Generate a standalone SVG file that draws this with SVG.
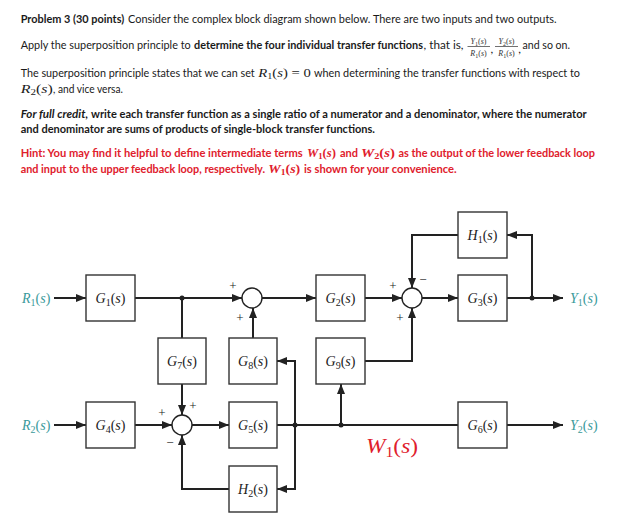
<svg xmlns="http://www.w3.org/2000/svg" width="623" height="519" viewBox="0 0 623 519">
<defs>
<style>
.t{font-family:Lato,"Open Sans","Liberation Sans",sans-serif;font-size:12px;fill:#1a1a1a}
.b{font-weight:bold}
.bi{font-weight:bold;font-style:italic}
.red{fill:#e0202c}
.m{font-family:"Liberation Serif","DejaVu Serif",serif;font-size:13px}
.i{font-style:italic}
.lbl{font-family:"Liberation Serif","DejaVu Serif",serif;font-size:14px;fill:#222;text-anchor:middle}
.io{font-family:"Liberation Serif","DejaVu Serif",serif;font-size:14px;fill:#3a9a9b}
.sg{font-family:"Liberation Serif","DejaVu Serif",serif;font-size:13px;fill:#222;text-anchor:middle}
.box{fill:#fff;stroke:#333;stroke-width:1.4}
.sum{fill:#fff;stroke:#222;stroke-width:1.4}
.c{fill:none;stroke:#222;stroke-width:2}
.a{marker-end:url(#ah)}
.dot{fill:#222}
</style>
<marker id="ah" markerWidth="10" markerHeight="8" refX="10" refY="4" orient="auto" markerUnits="userSpaceOnUse">
<path d="M0,0 L10,4 L0,8 z" fill="#222"/>
</marker>
</defs>
<rect width="623" height="519" fill="#fff"/>

<g id="text">
<text class="t b" x="20.7" y="22.7" textLength="103.5" lengthAdjust="spacingAndGlyphs">Problem 3 (30 points)</text>
<text class="t" x="128" y="22.7" textLength="428.7" lengthAdjust="spacingAndGlyphs">Consider the complex block diagram shown below. There are two inputs and two outputs.</text>

<text class="t" x="20.7" y="49" textLength="170" lengthAdjust="spacingAndGlyphs">Apply the superposition principle to</text>
<text class="t b" x="194" y="49" textLength="229" lengthAdjust="spacingAndGlyphs">determine the four individual transfer functions</text>
<text class="t" x="423.5" y="49" textLength="40" lengthAdjust="spacingAndGlyphs">, that is,</text>
<g font-family="Liberation Serif,serif" font-size="8" fill="#333" text-anchor="middle">
<text x="478.5" y="44"><tspan font-style="italic">Y</tspan><tspan font-size="6" dy="1.5">1</tspan><tspan dy="-1.5">(</tspan><tspan font-style="italic">s</tspan>)</text>
<text x="478.5" y="56"><tspan font-style="italic">R</tspan><tspan font-size="6" dy="1.5">1</tspan><tspan dy="-1.5">(</tspan><tspan font-style="italic">s</tspan>)</text>
<text x="506.5" y="44"><tspan font-style="italic">Y</tspan><tspan font-size="6" dy="1.5">2</tspan><tspan dy="-1.5">(</tspan><tspan font-style="italic">s</tspan>)</text>
<text x="506.5" y="56"><tspan font-style="italic">R</tspan><tspan font-size="6" dy="1.5">1</tspan><tspan dy="-1.5">(</tspan><tspan font-style="italic">s</tspan>)</text>
</g>
<path d="M467.5,46.5 H490 M495,46.5 H518" stroke="#333" stroke-width="0.7"/>
<text class="t" x="490.5" y="53">,</text>
<text class="t" x="518.3" y="53">,</text>
<text class="t" x="522.5" y="49" textLength="47.5" lengthAdjust="spacingAndGlyphs">and so on.</text>

<text class="t" x="20.7" y="77.3" textLength="234" lengthAdjust="spacingAndGlyphs">The superposition principle states that we can set</text>
<text class="m" x="258.3" y="77.3" fill="#1a1a1a" textLength="52.5" lengthAdjust="spacingAndGlyphs"><tspan class="i">R</tspan><tspan font-size="9" dy="2">1</tspan><tspan dy="-2">(</tspan><tspan class="i">s</tspan>) = 0</text>
<text class="t" x="314" y="77.3" textLength="266" lengthAdjust="spacingAndGlyphs">when determining the transfer functions with respect to</text>
<text class="m" x="20.7" y="93.3" fill="#1a1a1a" textLength="32" lengthAdjust="spacingAndGlyphs"><tspan class="i">R</tspan><tspan font-size="9" dy="2">2</tspan><tspan dy="-2">(</tspan><tspan class="i">s</tspan>)</text>
<text class="t" x="53" y="93.3" textLength="70" lengthAdjust="spacingAndGlyphs">, and vice versa.</text>

<text class="t bi" x="20.7" y="118.3" textLength="67.5" lengthAdjust="spacingAndGlyphs">For full credit,</text>
<text class="t b" x="91" y="118.3" textLength="495.7" lengthAdjust="spacingAndGlyphs">write each transfer function as a single ratio of a numerator and a denominator, where the numerator</text>
<text class="t b" x="20.7" y="133.3" textLength="354.3" lengthAdjust="spacingAndGlyphs">and denominator are sums of products of single-block transfer functions.</text>

<text class="t b red" x="20.7" y="156.7" textLength="282" lengthAdjust="spacingAndGlyphs">Hint: You may find it helpful to define intermediate terms</text>
<text class="m red" x="307" y="156.7" font-weight="bold" textLength="29" lengthAdjust="spacingAndGlyphs"><tspan class="i">W</tspan><tspan font-size="9" dy="2">1</tspan><tspan dy="-2">(</tspan><tspan class="i">s</tspan>)</text>
<text class="t b red" x="340" y="156.7" textLength="18" lengthAdjust="spacingAndGlyphs">and</text>
<text class="m red" x="361" y="156.7" font-weight="bold" textLength="34" lengthAdjust="spacingAndGlyphs"><tspan class="i">W</tspan><tspan font-size="9" dy="2">2</tspan><tspan dy="-2">(</tspan><tspan class="i">s</tspan>)</text>
<text class="t b red" x="398.5" y="156.7" textLength="196.5" lengthAdjust="spacingAndGlyphs">as the output of the lower feedback loop</text>
<text class="t b red" x="20.7" y="172.7" textLength="244.3" lengthAdjust="spacingAndGlyphs">and input to the upper feedback loop, respectively.</text>
<text class="m red" x="268.3" y="172.7" font-weight="bold" textLength="32" lengthAdjust="spacingAndGlyphs"><tspan class="i">W</tspan><tspan font-size="9" dy="2">1</tspan><tspan dy="-2">(</tspan><tspan class="i">s</tspan>)</text>
<text class="t b red" x="304" y="172.7" textLength="152.7" lengthAdjust="spacingAndGlyphs">is shown for your convenience.</text>
</g>

<g id="connectors">
<path class="c a" d="M54,298 H86"/>
<path class="c a" d="M135,298 H242"/>
<path class="c" d="M182,298 V338"/>
<path class="c a" d="M182,384 V415"/>
<path class="c a" d="M262,298 H316"/>
<path class="c a" d="M253,338 V308"/>
<path class="c a" d="M365,298 H402"/>
<path class="c a" d="M422,298 H458"/>
<path class="c a" d="M507,298 H563"/>
<path class="c a" d="M532,298 V235 H507"/>
<path class="c a" d="M458,235 H412 V288"/>
<path class="c a" d="M365,361 H412 V308"/>
<path class="c a" d="M54,425 H86"/>
<path class="c a" d="M135,425 H172"/>
<path class="c a" d="M192,425 H229"/>
<path class="c" d="M277,425 H458"/>
<path class="c a" d="M295,425 V361 H277"/>
<path class="c a" d="M295,425 V489 H277"/>
<path class="c a" d="M229,489 H182 V435"/>
<path class="c a" d="M341,425 V384"/>
<path class="c a" d="M507,425 H563"/>
<circle class="dot" cx="182" cy="298" r="2.5"/>
<circle class="dot" cx="532" cy="298" r="2.5"/>
<circle class="dot" cx="295" cy="425" r="2.5"/>
<circle class="dot" cx="341" cy="425" r="2.5"/>
</g>

<g id="sum1"><circle class="sum" cx="252" cy="298" r="10"/><text class="sg" x="233" y="290">+</text><text class="sg" x="240" y="322">+</text></g>
<g id="sum2"><circle class="sum" cx="412" cy="298" r="10"/><text class="sg" x="393" y="290">+</text><text class="sg" x="400" y="322">+</text><text class="sg" x="423" y="284">−</text></g>
<g id="sum3"><circle class="sum" cx="182" cy="425" r="10"/><text class="sg" x="162" y="417">+</text><text class="sg" x="193" y="410">+</text><text class="sg" x="170" y="447">−</text></g>

<g id="G1"><rect class="box" x="86" y="275" width="49" height="46"/><text class="lbl" x="110.5" y="303"><tspan class="i">G</tspan><tspan font-size="10" dy="3">1</tspan><tspan dy="-3">(</tspan><tspan class="i">s</tspan>)</text></g>
<g id="G2"><rect class="box" x="316" y="275" width="49" height="46"/><text class="lbl" x="340.5" y="303"><tspan class="i">G</tspan><tspan font-size="10" dy="3">2</tspan><tspan dy="-3">(</tspan><tspan class="i">s</tspan>)</text></g>
<g id="G3"><rect class="box" x="458" y="275" width="49" height="46"/><text class="lbl" x="482.5" y="303"><tspan class="i">G</tspan><tspan font-size="10" dy="3">3</tspan><tspan dy="-3">(</tspan><tspan class="i">s</tspan>)</text></g>
<g id="H1"><rect class="box" x="458" y="212" width="49" height="46"/><text class="lbl" x="482.5" y="240"><tspan class="i">H</tspan><tspan font-size="10" dy="3">1</tspan><tspan dy="-3">(</tspan><tspan class="i">s</tspan>)</text></g>
<g id="G7"><rect class="box" x="158" y="338" width="48" height="46"/><text class="lbl" x="182" y="366"><tspan class="i">G</tspan><tspan font-size="10" dy="3">7</tspan><tspan dy="-3">(</tspan><tspan class="i">s</tspan>)</text></g>
<g id="G8"><rect class="box" x="229" y="338" width="48" height="46"/><text class="lbl" x="253" y="366"><tspan class="i">G</tspan><tspan font-size="10" dy="3">8</tspan><tspan dy="-3">(</tspan><tspan class="i">s</tspan>)</text></g>
<g id="G9"><rect class="box" x="316" y="338" width="49" height="46"/><text class="lbl" x="340.5" y="366"><tspan class="i">G</tspan><tspan font-size="10" dy="3">9</tspan><tspan dy="-3">(</tspan><tspan class="i">s</tspan>)</text></g>
<g id="G4"><rect class="box" x="86" y="402" width="49" height="46"/><text class="lbl" x="110.5" y="430"><tspan class="i">G</tspan><tspan font-size="10" dy="3">4</tspan><tspan dy="-3">(</tspan><tspan class="i">s</tspan>)</text></g>
<g id="G5"><rect class="box" x="229" y="402" width="48" height="46"/><text class="lbl" x="253" y="430"><tspan class="i">G</tspan><tspan font-size="10" dy="3">5</tspan><tspan dy="-3">(</tspan><tspan class="i">s</tspan>)</text></g>
<g id="G6"><rect class="box" x="458" y="402" width="49" height="46"/><text class="lbl" x="482.5" y="430"><tspan class="i">G</tspan><tspan font-size="10" dy="3">6</tspan><tspan dy="-3">(</tspan><tspan class="i">s</tspan>)</text></g>
<g id="H2"><rect class="box" x="229" y="466" width="48" height="46"/><text class="lbl" x="253" y="494"><tspan class="i">H</tspan><tspan font-size="10" dy="3">2</tspan><tspan dy="-3">(</tspan><tspan class="i">s</tspan>)</text></g>

<g id="R1"><text class="io" x="22" y="303"><tspan class="i">R</tspan><tspan font-size="10" dy="3">1</tspan><tspan dy="-3">(</tspan><tspan class="i">s</tspan>)</text></g>
<g id="R2"><text class="io" x="22" y="430"><tspan class="i">R</tspan><tspan font-size="10" dy="3">2</tspan><tspan dy="-3">(</tspan><tspan class="i">s</tspan>)</text></g>
<g id="Y1"><text class="io" x="570" y="303"><tspan class="i">Y</tspan><tspan font-size="10" dy="3">1</tspan><tspan dy="-3">(</tspan><tspan class="i">s</tspan>)</text></g>
<g id="Y2"><text class="io" x="570" y="430"><tspan class="i">Y</tspan><tspan font-size="10" dy="3">2</tspan><tspan dy="-3">(</tspan><tspan class="i">s</tspan>)</text></g>
<g id="W1"><text x="366" y="453" font-family="Liberation Serif,DejaVu Serif,serif" font-size="22" fill="#e0202c" textLength="52" lengthAdjust="spacingAndGlyphs"><tspan font-style="italic">W</tspan><tspan font-size="15" dy="4">1</tspan><tspan dy="-4">(</tspan><tspan font-style="italic">s</tspan>)</text></g>
</svg>
